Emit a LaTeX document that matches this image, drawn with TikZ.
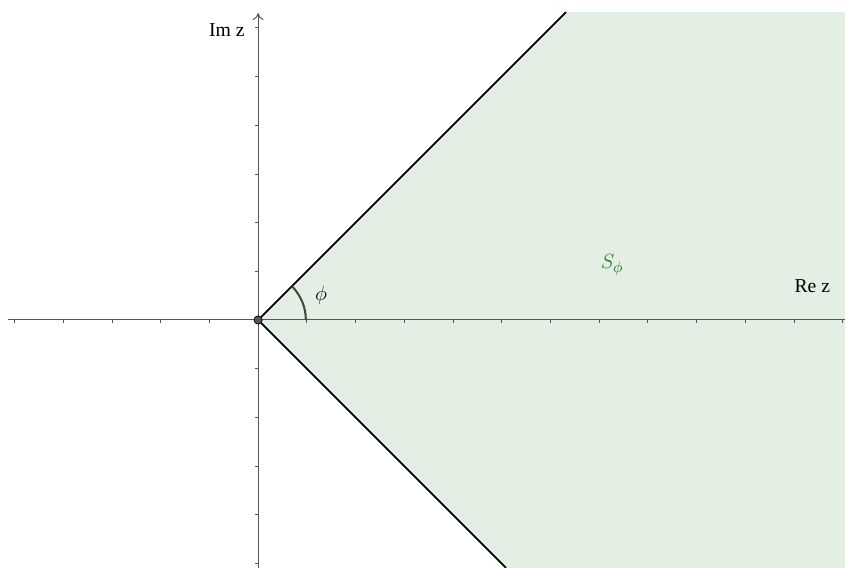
\documentclass[tikz,border=0pt]{standalone}
\usepackage{fontspec}
\usepackage{tikz}
\usetikzlibrary{arrows.meta,calc}
\newfontfamily\labelfont{Liberation Serif}
\definecolor{SectorFill}{RGB}{228,239,228}
\definecolor{AxisGray}{RGB}{85,85,85}
\definecolor{ArcGray}{RGB}{70,70,70}
\definecolor{LabelGreen}{RGB}{30,125,30}

\begin{document}
\begin{tikzpicture}[
      axisLine/.style={draw=AxisGray,line width=0.6pt},
      tickMark/.style={draw=AxisGray,line width=0.4pt},
      rayLine/.style={draw=black,line width=1.1pt},
      axLabel/.style={font=\labelfont\fontsize{11.5}{13}\selectfont,text=black},
      mathLabel/.style={font=\fontsize{13}{15}\selectfont},
      ar/.style={-{To[length=1.4mm,width=2.2mm]},axisLine}
    ]
    \useasboundingbox (-5.30,-5.09) rectangle (12.05,6.57);

    % Sector S_phi
    \coordinate (o) at (0,0);
    \coordinate (up) at (6.32,6.32);
    \coordinate (dn) at (5.09,-5.09);
    \fill[SectorFill] (o) -- (up) -- (12.05,6.32) -- (12.05,-5.09) -- (dn) -- cycle;

    % Axes
    \coordinate (xl) at (-5.13,0);
    \coordinate (xr) at (12.05,0);
    \coordinate (yb) at (0,-5.09);
    \coordinate (yt) at (0,6.30);
    \draw[axisLine] (xl) -- (xr);
    \draw[ar] (yb) -- (yt);

    % Ticks
    \foreach \k in {-5,...,-1,1,2,...,12}
      \draw[tickMark] (\k,0) -- (\k,-0.07);
    \foreach \k in {-5,...,-1,1,2,...,6}
      \draw[tickMark] (0,\k) -- (-0.07,\k);

    % Boundary rays
    \draw[rayLine] (o) -- (up);
    \draw[rayLine] (o) -- (dn);

    % Angle
    \draw[ArcGray,line width=1.2pt] (0.98,0) arc[start angle=0,end angle=45,radius=0.98];
    \node(phi)[mathLabel] at (1.29,0.51) {$\phi$};

    % Origin
    \node(orig)[circle,fill=AxisGray,draw=black,inner sep=0pt,minimum size=0.17cm] at (o) {};

    % Labels
    \node(im)[axLabel] at (-0.64,5.95) {Im z};
    \node(re)[axLabel] at (11.38,0.70) {Re z};
    \node(sec)[mathLabel,text=LabelGreen] at (7.27,1.13) {$S_\phi$};
  \end{tikzpicture}
\end{document}
